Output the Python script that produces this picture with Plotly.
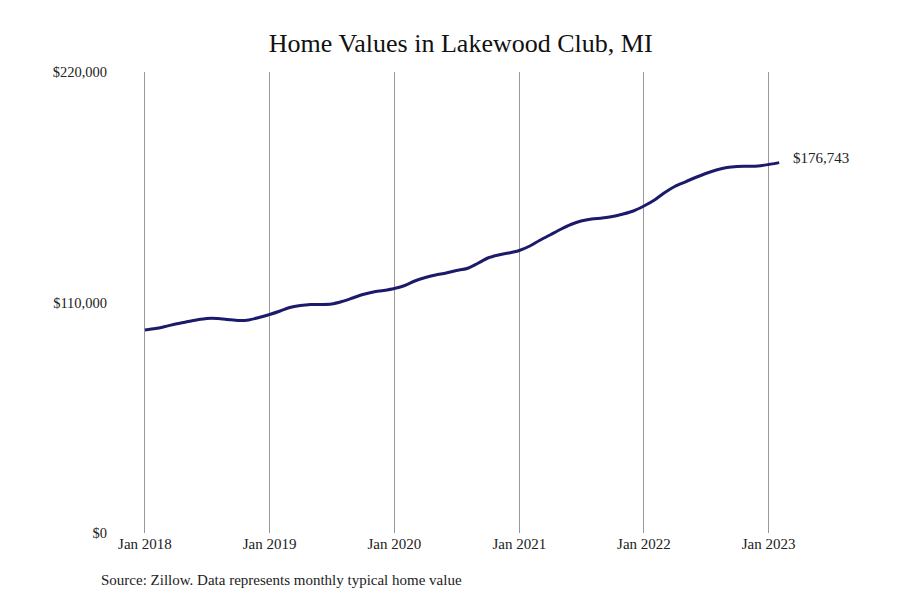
import plotly.graph_objects as go
import pandas as pd

# monthly typical home value, Jan 2018 .. Feb 2023
months = pd.date_range('2018-01-01', '2023-02-01', freq='MS')
values = [
	96900, 97590, 98550, 99740, 100690, 101650, 102360, 102360, 101890, 101410, 101650, 102840,
	104270, 105940, 107610, 108570, 109050, 109050, 109280, 110480, 112150, 113820, 115010, 115730,
	116680, 118110, 120260, 121930, 123120, 124080, 125270, 126230, 128610, 131240, 132670, 133620,
	134820, 136960, 139590, 142210, 144840, 147220, 148890, 149850, 150320, 151040, 152230, 153670,
	156050, 158910, 162260, 165360, 167500, 169650, 171560, 173230, 174420, 174900, 175000, 175140,
	175860, 176743,
]

x_ticks = ['2018-01-01', '2019-01-01', '2020-01-01', '2021-01-01', '2022-01-01', '2023-01-01']
x_tick_labels = ['Jan 2018', 'Jan 2019', 'Jan 2020', 'Jan 2021', 'Jan 2022', 'Jan 2023']
y_ticks = [0, 110000, 220000]
y_tick_labels = ['$0', '$110,000', '$220,000']

serif = 'Liberation Serif, DejaVu Serif, serif'

fig = go.Figure()
fig.add_trace(go.Scatter(
	x = months,
	y = values,
	mode = 'lines',
	line = dict(color = '#1b1a6b', width = 3, shape = 'spline', smoothing = 0.8),
	hoverinfo = 'skip',
	showlegend = False,
))

# last value label
fig.add_annotation(
	x = months[-1], y = values[-1],
	text = f'${values[-1]:,}',
	showarrow = False,
	xanchor = 'left', yanchor = 'middle',
	xshift = 12, yshift = 5,
	font = dict(family = serif, size = 15, color = '#222'),
)

# source note
fig.add_annotation(
	xref = 'paper', yref = 'paper',
	x = -0.032, y = -0.102,
	text = 'Source: Zillow. Data represents monthly typical home value',
	showarrow = False,
	xanchor = 'left', yanchor = 'middle',
	font = dict(family = serif, size = 15, color = '#222'),
)

fig.update_layout(
	width = 900, height = 600,
	paper_bgcolor = 'white', plot_bgcolor = 'white',
	margin = dict(l = 112, r = 123, t = 64, b = 75),
	title = dict(
		text = 'Home Values in Lakewood Club, MI',
		x = 0.503, y = 0.9417, xanchor = 'center', yanchor = 'middle',
		font = dict(family = serif, size = 26, color = '#111'),
	),
	xaxis = dict(
		range = ['2017-10-20', '2023-02-18'],
		tickvals = x_ticks, ticktext = x_tick_labels,
		showgrid = True, gridcolor = '#999', gridwidth = 1,
		zeroline = False, showline = False, ticks = '',
		tickfont = dict(family = serif, size = 15, color = '#222'),
	),
	yaxis = dict(
		range = [0, 220000],
		tickvals = y_ticks, ticktext = y_tick_labels,
		showgrid = False, zeroline = False, showline = False, ticks = '',
		ticklabelstandoff = 12,
		tickfont = dict(family = serif, size = 14.5, color = '#222'),
	),
)

fig.write_html('out.html')
